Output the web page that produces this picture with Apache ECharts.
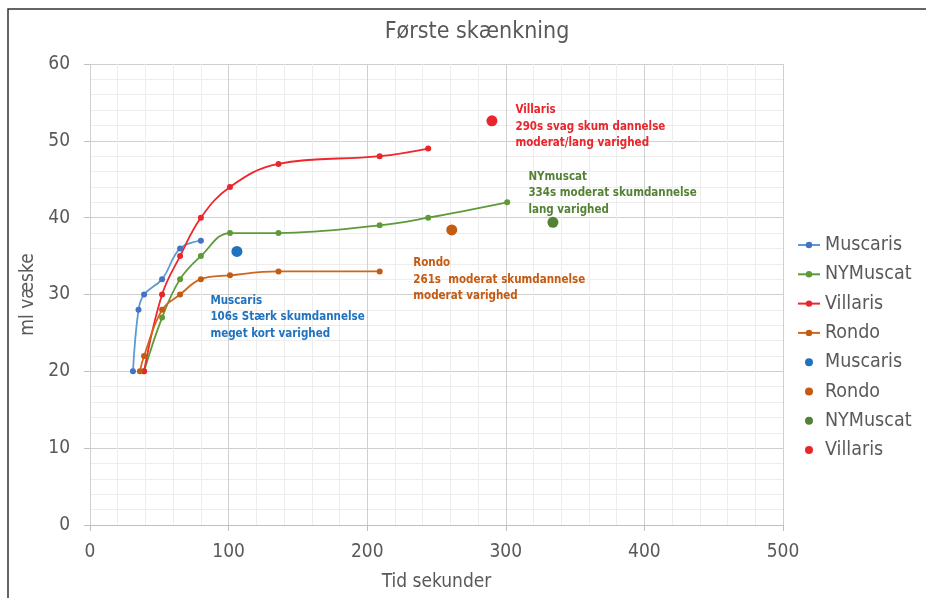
<!DOCTYPE html>
<html>
<head>
<meta charset="utf-8">
<script src="https://cdn.jsdelivr.net/npm/echarts@6/dist/echarts.min.js"></script>
<style>
html,body{margin:0;padding:0;background:#fff;}
#c{width:926px;height:598px;}
</style>
</head>
<body>
<div id="c"></div>
<script>
// Line series data (time in seconds, ml liquid)
const muscarisX = [31, 35, 39, 52, 65, 80];
const muscarisY = [20, 28, 30, 32, 36, 37];
const nymuscatX = [39, 52, 65, 80, 101, 136, 209, 244, 301];
const nymuscatY = [20, 27, 32, 35, 38, 38, 39, 40, 42];
const villarisX = [39, 52, 65, 80, 101, 136, 209, 244];
const villarisY = [20, 30, 35, 40, 44, 47, 48, 49];
const rondoX = [36, 39, 52, 65, 80, 101, 136, 209];
const rondoY = [20, 22, 28, 30, 32, 32.5, 33, 33];
// Single summary points
const muscarisPt = [106, 35.6];
const rondoPt = [261, 38.4];
const nymuscatPt = [334, 39.4];
const villarisPt = [290, 52.6];
// Annotation texts
const muscarisNote = ['Muscaris', '106s Stærk skumdannelse', 'meget kort varighed'];
const rondoNote = ['Rondo', '261s  moderat skumdannelse', 'moderat varighed'];
const nymuscatNote = ['NYmuscat', '334s moderat skumdannelse', 'lang varighed'];
const villarisNote = ['Villaris', '290s svag skum dannelse', 'moderat/lang varighed'];
const xTicks = [0, 100, 200, 300, 400, 500];
const yTicks = [0, 10, 20, 30, 40, 50, 60];

const FONT = '"Liberation Sans Narrow", "DejaVu Sans Condensed", "Liberation Sans", sans-serif';
const zip = (xs, ys) => xs.map((x, i) => [x, ys[i]]);

function lineSeries(name, xs, ys, lineColor, markColor) {
  return {
    name: name, type: 'line', data: zip(xs, ys), smooth: 0.4,
    symbol: 'circle', symbolSize: 6, showSymbol: true,
    lineStyle: { color: lineColor, width: 1.8 },
    itemStyle: { color: markColor },
    z: 3
  };
}
function pointSeries(name, pt, color, note, off) {
  return {
    name: name, type: 'scatter', data: [pt], symbolSize: 11,
    itemStyle: { color: color, opacity: 1 },
    label: {
      show: true, position: 'right', distance: 0, offset: off,
      formatter: note.join('\n'), color: color, fontFamily: FONT,
      fontWeight: 'bold', fontSize: 11.5, lineHeight: 16.5, align: 'left'
    },
    z: 4
  };
}

const chart = echarts.init(document.getElementById('c'), null, { renderer: 'canvas' });
chart.setOption({
  animation: false,
  backgroundColor: '#fff',
  textStyle: { fontFamily: FONT },
  title: {
    text: 'Første skænkning', left: 472, top: 16, textAlign: 'center',
    textStyle: { fontFamily: FONT, fontWeight: 'normal', fontSize: 23, color: '#595959' }
  },
  grid: { left: 90, right: 143, top: 64, bottom: 73, containLabel: false },
  legend: {
    orient: 'vertical', left: 792, top: 230,
    itemWidth: 22, itemHeight: 8, itemGap: 9.3,
    textStyle: { fontFamily: FONT, fontSize: 19.5, color: '#595959', lineHeight: 20 },
    formatter: n => n.trim(),
    data: [
      { name: 'Muscaris' }, { name: 'NYMuscat' }, { name: 'Villaris' }, { name: 'Rondo' },
      { name: 'Muscaris ', icon: 'circle' }, { name: 'Rondo ', icon: 'circle' },
      { name: 'NYMuscat ', icon: 'circle' }, { name: 'Villaris ', icon: 'circle' }
    ]
  },
  xAxis: {
    type: 'value', min: xTicks[0], max: xTicks[xTicks.length - 1], interval: 100,
    name: 'Tid sekunder', nameLocation: 'middle', nameGap: 48,
    nameTextStyle: { fontFamily: FONT, fontSize: 19, color: '#595959' },
    axisLine: { show: true, lineStyle: { color: '#bfbfbf', width: 1 } },
    axisTick: { show: true, length: 6, lineStyle: { color: '#bfbfbf' } },
    axisLabel: { fontFamily: FONT, fontSize: 19, color: '#595959', margin: 18 },
    splitLine: { show: true, lineStyle: { color: '#d0d0d0', width: 1 } },
    minorTick: { show: false, splitNumber: 5 },
    minorSplitLine: { show: true, lineStyle: { color: '#ededed', width: 1 } }
  },
  yAxis: {
    type: 'value', min: yTicks[0], max: yTicks[yTicks.length - 1], interval: 10,
    name: 'ml væske', nameLocation: 'middle', nameGap: 44, nameRotate: 90,
    nameTextStyle: { fontFamily: FONT, fontSize: 19, color: '#595959' },
    axisLine: { show: true, lineStyle: { color: '#d0d0d0', width: 1 } },
    axisTick: { show: true, length: 6, lineStyle: { color: '#bfbfbf' } },
    axisLabel: { fontFamily: FONT, fontSize: 19, color: '#595959', margin: 20 },
    splitLine: { show: true, lineStyle: { color: '#d0d0d0', width: 1 } },
    minorTick: { show: false, splitNumber: 5 },
    minorSplitLine: { show: true, lineStyle: { color: '#ededed', width: 1 } }
  },
  series: [
    lineSeries('Muscaris', muscarisX, muscarisY, '#5B9BD5', '#4472C4'),
    lineSeries('NYMuscat', nymuscatX, nymuscatY, '#5E9A3A', '#5E9A3A'),
    lineSeries('Villaris', villarisX, villarisY, '#F0262B', '#E8262B'),
    lineSeries('Rondo', rondoX, rondoY, '#D0661E', '#C55A11'),
    pointSeries('Muscaris ', muscarisPt, '#1F72C0', muscarisNote, [-32, 66]),
    pointSeries('Rondo ', rondoPt, '#C55A11', rondoNote, [-44, 50]),
    pointSeries('NYMuscat ', nymuscatPt, '#548235', nymuscatNote, [-30, -29]),
    pointSeries('Villaris ', villarisPt, '#E8262B', villarisNote, [18, 6])
  ],
  graphic: [{
    type: 'polyline', silent: true,
    shape: { points: [[8, 598], [8, 9], [926, 9]] },
    style: { stroke: '#333', lineWidth: 1.5, fill: null }
  }]
});
</script>
</body>
</html>
